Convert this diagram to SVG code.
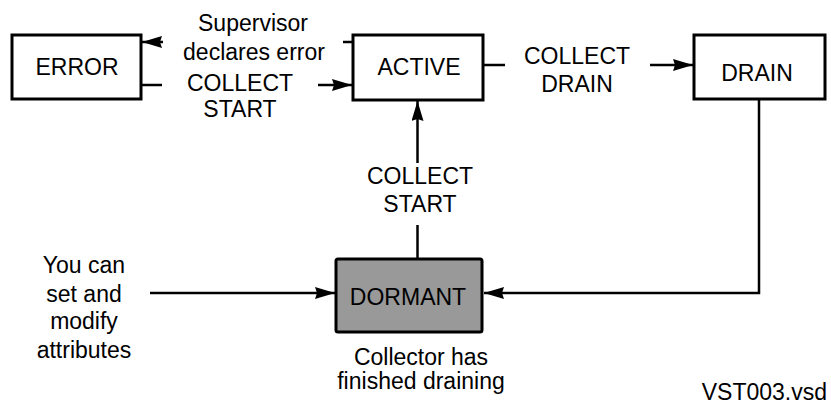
<svg xmlns="http://www.w3.org/2000/svg" width="831" height="404" viewBox="0 0 831 404">
<style>
text{font-family:"Liberation Sans",Arial,sans-serif;font-size:23px;fill:#000;text-anchor:middle}
.box{fill:#fff;stroke:#000;stroke-width:3}
.gray{fill:#999999;stroke:#000;stroke-width:3}
.ln{fill:none;stroke:#000;stroke-width:2.5}
.arr{marker-end:url(#ah)}
</style>
<defs>
<marker id="ah" viewBox="0 0 20 12" refX="20" refY="6" markerWidth="21" markerHeight="12" markerUnits="userSpaceOnUse" orient="auto">
<path d="M0,0 L20,6 L0,12 L2,6 z" fill="#000"/>
</marker>
</defs>
<g id="connectors">
<line class="ln" x1="343" y1="42" x2="353" y2="42"/>
<line class="ln arr" x1="163" y1="42" x2="142" y2="42"/>
<line class="ln" x1="141" y1="85" x2="162" y2="85"/>
<line class="ln arr" x1="318" y1="85" x2="352" y2="85"/>
<line class="ln" x1="483" y1="65" x2="505" y2="65"/>
<line class="ln arr" x1="650" y1="65" x2="693" y2="65"/>
<line class="ln" x1="417.5" y1="259" x2="417.5" y2="225"/>
<line class="ln arr" x1="417.5" y1="163" x2="417.5" y2="101"/>
<polyline class="ln arr" points="759,100 759,293 484,293"/>
<line class="ln arr" x1="150" y1="293" x2="335" y2="293"/>
</g>
<g id="error">
<rect class="box" x="12" y="35" width="129" height="64"/>
<text x="77" y="75">ERROR</text>
</g>
<g id="active">
<rect class="box" x="353" y="35" width="130" height="65"/>
<text x="419" y="75">ACTIVE</text>
</g>
<g id="drain">
<rect class="box" x="694" y="35" width="131" height="64"/>
<text x="757" y="81">DRAIN</text>
</g>
<g id="dormant">
<rect class="gray" x="336" y="259" width="146" height="73" rx="2"/>
<text x="408" y="305">DORMANT</text>
</g>
<g id="labels">
<text x="253" y="31">Supervisor</text>
<text x="254" y="60">declares error</text>
<text x="240" y="91">COLLECT</text>
<text x="240" y="117">START</text>
<text x="577" y="64">COLLECT</text>
<text x="577" y="92">DRAIN</text>
<text x="420" y="184">COLLECT</text>
<text x="420" y="212">START</text>
<text x="84" y="273">You can</text>
<text x="84" y="302">set and</text>
<text x="84" y="329">modify</text>
<text x="84" y="358">attributes</text>
<text x="421" y="365">Collector has</text>
<text x="421" y="389">finished draining</text>
<text x="827" y="400" style="text-anchor:end">VST003.vsd</text>
</g>
</svg>
